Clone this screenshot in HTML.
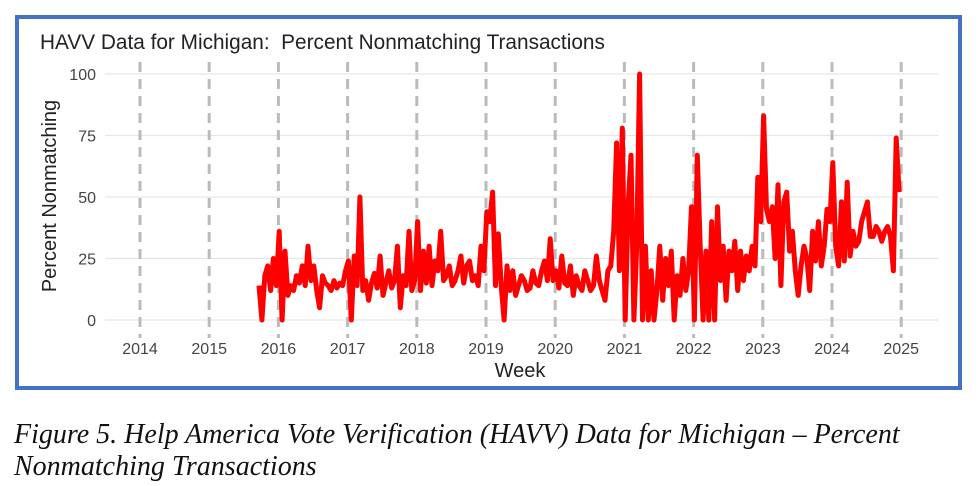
<!DOCTYPE html>
<html><head><meta charset="utf-8"><style>
body{margin:0;background:#fff;width:979px;height:486px;overflow:hidden;font-family:"Liberation Sans",sans-serif}
.cap{position:absolute;left:14px;font-family:"Liberation Serif",serif;font-style:italic;font-size:28px;color:#111;white-space:nowrap}
</style></head><body>
<svg width="979" height="400" style="position:absolute;left:0;top:0">
<rect x="17" y="17" width="943" height="371" fill="none" stroke="#4472C4" stroke-width="4"/>
<text x="40" y="49" font-size="20.8" fill="#222" xml:space="preserve">HAVV Data for Michigan:  Percent Nonmatching Transactions</text>
<text transform="translate(56,196) rotate(-90)" text-anchor="middle" font-size="20" fill="#222">Percent Nonmatching</text>
<text x="520" y="377" text-anchor="middle" font-size="20" fill="#222">Week</text>
<g id="grid"></g><g id="series"></g>
</svg>
<div class="cap" style="top:419px">Figure 5. Help America Vote Verification (HAVV) Data for Michigan – Percent</div>
<div class="cap" style="top:451px">Nonmatching Transactions</div>
<script>
const yTicks=[0,25,50,75,100];
const xYears=[2014,2015,2016,2017,2018,2019,2020,2021,2022,2023,2024,2025];
const startYear=2015.72;
const stepYears=1/24;
const values=[14,0,18,22,12,25,14,
36,0,28,10,14,12,18,15,22,14,30,16,22,12,5,18,15,14,12,16,13,15,14,20,
24,0,26,14,50,12,16,8,15,19,13,26,10,15,20,13,16,30,5,18,14,36,12,16,
40,12,28,15,30,14,24,20,36,16,18,22,14,16,20,26,15,22,24,16,18,14,30,20,
44,40,52,14,35,14,0,22,12,20,10,14,18,16,12,13,20,15,14,20,24,16,33,16,
20,13,26,15,14,22,10,18,14,12,20,16,12,14,26,16,12,8,20,22,36,72,20,78,
0,46,67,0,30,100,0,30,0,20,0,12,30,8,25,14,28,0,18,10,25,12,20,46,
0,67,30,0,28,0,40,0,46,16,30,8,28,20,32,12,28,16,26,20,30,22,58,40,
83,45,40,46,25,55,14,48,52,28,36,20,10,22,30,25,12,36,24,40,22,30,45,40,
64,30,22,48,24,56,26,36,30,32,40,44,48,34,34,38,36,32,36,38,34,20,74,52];
const X=t=>140+(t-2014)*69.2;
const Y=v=>320-v*2.46;
const NS='http://www.w3.org/2000/svg';
const grid=document.getElementById('grid'),ser=document.getElementById('series');
function mk(tag,attrs,parent){const e=document.createElementNS(NS,tag);for(const k in attrs)e.setAttribute(k,attrs[k]);parent.appendChild(e);return e;}
yTicks.forEach(v=>{
 const l=mk('line',{x1:105,x2:938,y1:Y(v),y2:Y(v),stroke:'#e6e6e6','stroke-width':1.2},grid);
 
 
 const t=mk('text',{x:96,y:Y(v)+6,'text-anchor':'end','font-size':16,fill:'#444'},grid);
 
 
 t.textContent=v;
});
xYears.forEach(yr=>{
 const l=mk('line',{x1:X(yr),x2:X(yr),y1:62,y2:338,stroke:'#bbb','stroke-width':3,'stroke-dasharray':'10,7'},grid);
 
 
 const t=mk('text',{x:X(yr),y:354,'text-anchor':'middle','font-size':16,fill:'#444'},grid);
 
 
 t.textContent=yr;
});
const pts=values.map((v,i)=>X(startYear+i*stepYears).toFixed(1)+','+Y(v).toFixed(1)).join(' ');
const p=mk('polyline',{points:pts,fill:'none',stroke:'#ff0000','stroke-width':5,'stroke-linejoin':'round'},ser);


</script>
</body></html>
